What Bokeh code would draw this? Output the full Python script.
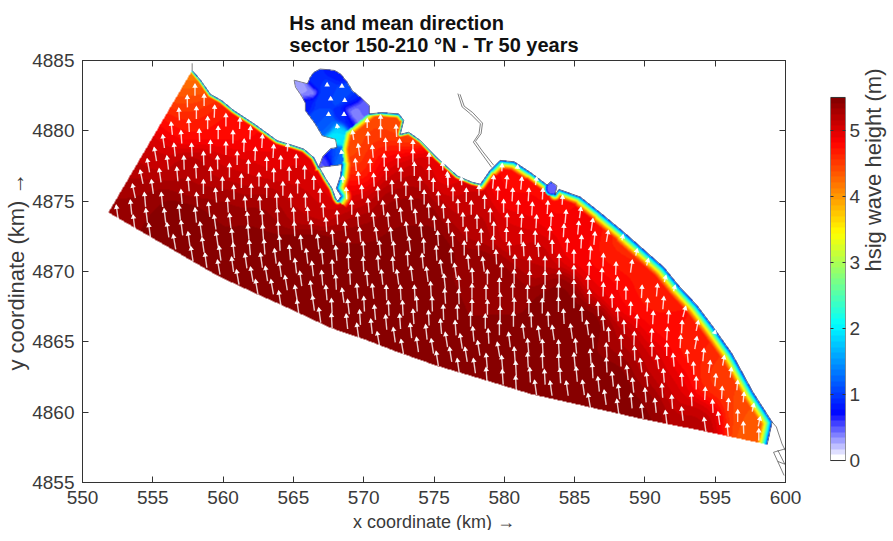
import numpy as np
from bokeh.plotting import figure
from bokeh.models import LinearAxis, FixedTicker, LinearColorMapper, Range1d, ColumnDataSource
from bokeh.layouts import row
from bokeh.embed import file_html
from bokeh.resources import INLINE

title_text = "Hs and mean direction\nsector 150-210 \u00b0N - Tr 50 years"
x_ticks = [550, 555, 560, 565, 570, 575, 580, 585, 590, 595, 600]
y_ticks = [4855, 4860, 4865, 4870, 4875, 4880, 4885]
cbar_ticks = [0, 1, 2, 3, 4, 5]
hs_max = 5.5

# sea boundary (open side)
south_boundary = [(551.85, 4874.2), (553.65, 4873.15), (556.5, 4871.5), (559.6, 4869.7), (562.4, 4868.4),
                  (564.1, 4867.65), (567.63, 4866.0), (570.0, 4865.2), (572.35, 4864.3), (575.2, 4863.3),
                  (578.75, 4862.25), (581.85, 4861.3), (586.1, 4860.35), (589.65, 4859.55), (594.2, 4858.65),
                  (598.7, 4857.7)]
# shore, from the east corner back to the north-west tip: x, y, width of the surf band (km)
shore_east = [(598.7, 4857.7, 1.0), (599.05, 4859.3, 1.0), (597.7, 4861.4, 1.0), (596.2, 4864.15, 1.0),
              (594.9, 4866.0, 1.0), (593.7, 4867.6, 1.0), (592.4, 4869.0, 1.0), (591.35, 4870.3, 1.0),
              (590.15, 4871.35, 1.0), (588.5, 4872.8, 0.9), (586.8, 4874.2, 0.8), (585.4, 4875.3, 0.7),
              (584.0, 4875.8, 0.5), (583.9, 4875.85, 0.5), (583.6, 4875.45, 0.5), (583.75, 4876.1, 0.5),
              (583.3, 4876.4, 0.5), (583.05, 4876.15, 0.6)]
shore_north = [(581.85, 4877.05, 0.7), (580.7, 4877.8, 0.7), (579.7, 4877.9, 0.7), (579.0, 4877.2, 0.5),
               (578.3, 4876.2, 0.25), (577.7, 4876.35, 0.25), (576.65, 4876.8, 0.25), (575.2, 4878.1, 0.25),
               (574.05, 4879.3, 0.25), (573.2, 4879.9, 0.25), (572.6, 4879.75, 0.25), (572.85, 4880.75, 0.4),
               (572.5, 4881.2, 0.4), (571.3, 4881.3, 0.3), (570.4, 4881.2, 0.3)]
shore_bay = [(570.4, 4881.8, 0.4), (569.75, 4882.4, 0.4), (569.2, 4882.85, 0.4), (568.8, 4883.5, 0.4),
             (568.35, 4884.05, 0.4), (567.9, 4884.3, 0.4), (567.4, 4884.35, 0.4), (566.9, 4884.4, 0.4),
             (566.45, 4884.15, 0.4), (566.2, 4883.8, 0.4), (566.0, 4883.35, 0.4), (565.05, 4883.6, 0.4),
             (565.15, 4883.1, 0.4), (565.5, 4882.6, 0.4), (565.85, 4882.0, 0.4), (565.85, 4881.45, 0.4),
             (566.55, 4880.5, 0.4), (567.05, 4879.65, 0.4), (568.0, 4879.4, 0.4), (568.1, 4878.8, 0.4),
             (567.65, 4878.75, 0.4), (567.1, 4878.2, 0.4)]
shore_west = [(566.8, 4877.4, 0.3), (566.45, 4878.1, 0.3), (565.75, 4878.7, 0.3), (565.0, 4878.95, 0.3),
              (563.85, 4879.3, 0.3), (562.2, 4880.5, 0.3), (560.75, 4881.45, 0.3), (559.9, 4882.15, 0.3),
              (559.1, 4882.6, 0.3), (558.4, 4883.6, 0.3), (557.8, 4884.3, 0.3)]
island = [(566.85, 4877.4), (567.3, 4876.6), (567.75, 4875.9), (568.0, 4875.2), (568.15, 4875.0),
          (568.4, 4875.35), (568.05, 4875.9), (568.35, 4876.8), (568.45, 4877.6)]
# the line that separates the sheltered bays from the open field
shadow_line = [(570.4, 4881.25), (568.7, 4879.9), (568.45, 4878.7), (568.55, 4877.9), (568.45, 4877.6)]
river_a = [(576.7, 4882.65), (577.0, 4881.7), (577.6, 4881.2), (578.3, 4880.5), (578.2, 4879.8), (577.8, 4879.2),
           (578.3, 4878.5), (579.1, 4877.4)]
river_b = [(576.85, 4882.6), (577.15, 4881.75), (577.75, 4881.3), (578.45, 4880.55), (578.35, 4879.8),
           (577.95, 4879.25), (578.45, 4878.55), (579.25, 4877.55)]
land_lines = [[(557.8, 4884.3), (557.8, 4884.8)],
              [(599.05, 4859.3), (599.35, 4858.95), (599.75, 4857.75), (600.0, 4857.25)],
              [(599.15, 4857.15), (600.0, 4857.4)],
              [(599.15, 4857.15), (599.9, 4855.5)],
              [(599.45, 4857.3), (599.95, 4856.3), (599.45, 4856.5)]]

# Hs: x, y, Hs
hs_west = [(552, 4874.3, 5.35), (554, 4875, 5.4), (556, 4873.5, 5.45), (553.5, 4876.5, 5.2), (555, 4878.5, 5.1),
           (556.5, 4880.5, 4.75), (557.3, 4882.7, 4.3), (557.8, 4884, 4.0), (558, 4882, 4.55), (559, 4880.5, 4.75),
           (561, 4879.8, 4.75), (563, 4878.5, 4.85), (565, 4877.5, 4.95), (558, 4877, 5.25), (560, 4877.5, 5.05),
           (562, 4877, 5.1), (565, 4876, 5.1), (560, 4875, 5.35), (563, 4874.5, 5.35), (566, 4875, 5.2),
           (567, 4876, 4.9), (558, 4873, 5.5), (562, 4871.5, 5.5), (566, 4871, 5.5), (565, 4869.5, 5.5)]
hs_centre = [(570, 4870, 5.5), (570, 4873, 5.4), (569.5, 4875, 5.1), (569, 4877, 4.7), (569.3, 4878, 4.3),
             (569.5, 4879.5, 4.3), (570, 4880.5, 4.4), (571, 4881, 4.5), (571.5, 4880, 4.6), (572, 4881, 4.3),
             (572.3, 4880.2, 4.3), (571, 4878.5, 4.85), (572, 4877.5, 5.0), (573, 4876.5, 5.2), (572.5, 4875, 5.4),
             (574, 4874, 5.4), (576, 4877, 4.9), (577, 4875, 5.1), (578, 4873.5, 5.2), (575, 4872, 5.45),
             (573, 4871, 5.5), (574, 4868, 5.5), (578, 4870, 5.4), (572, 4866.5, 5.5), (566, 4868.5, 5.5)]
hs_east = [(580.5, 4875.5, 4.8), (581, 4873, 5.0), (582, 4871, 5.15), (580, 4869, 5.4), (584, 4868, 5.45),
           (586, 4866, 5.5), (583, 4874.5, 4.8), (585, 4872, 4.85), (587, 4869.5, 4.9), (589, 4868, 4.85),
           (591, 4866, 4.75), (588, 4871, 4.6), (590, 4868.5, 4.6), (593, 4864, 4.65), (595, 4862, 4.5),
           (597, 4860, 4.4), (598, 4858.5, 4.3), (592, 4862, 5.0), (594, 4859.5, 5.2), (590, 4861, 5.45),
           (588, 4863, 5.5), (586, 4861.5, 5.5), (580, 4864, 5.5), (588.5, 4865, 5.2), (590.5, 4863.5, 5.1)]
hs_bays = [(566.5, 4883.5, 0.9), (567.5, 4883, 1.0), (568, 4884, 0.85), (568.5, 4882.5, 1.1), (567, 4882, 1.0),
           (566, 4882, 0.85), (565.7, 4883, 0.3), (566, 4882.7, 0.35), (567, 4881, 1.1), (567.5, 4880.5, 1.2),
           (568.5, 4881, 0.9), (569.2, 4881.5, 0.35), (569.5, 4881, 0.3), (570, 4881.4, 0.5), (569, 4880.6, 0.8),
           (569, 4882, 0.9), (568.3, 4880, 1.8), (568.2, 4879.6, 2.0), (567.6, 4878.2, 0.8), (567.2, 4877.8, 0.5),
           (568, 4878.3, 1.2), (568.2, 4877.9, 1.3)]
hs_notch = [(583.4, 4876, 0.5), (583.6, 4875.6, 1.0)]

# arrow tips: x, y, direction in degrees clockwise from north
arrows_nw = [(558.0, 4883.3, 0), (557.45, 4882.5, -1), (558.65, 4882.6, 0), (556.85, 4881.6, -3), (558.1, 4881.7, 0),
             (559.4, 4881.8, 2), (556.3, 4880.6, -6), (557.55, 4880.8, -3), (558.9, 4881.0, 0), (560.2, 4881.2, 0),
             (555.7, 4879.7, -8), (557.0, 4880.0, -4), (558.3, 4880.1, -2), (559.65, 4880.3, 0), (561.2, 4880.9, 2),
             (555.1, 4878.8, -10), (556.5, 4879.1, -6), (557.75, 4879.1, -3), (559.1, 4879.3, 0), (560.7, 4880.0, 0),
             (561.95, 4880.3, 3), (554.6, 4878.0, -10), (556.0, 4878.2, -7), (557.2, 4878.2, -2), (558.6, 4878.5, -2),
             (560.2, 4879.2, 0), (561.5, 4879.4, 2), (562.8, 4879.7, 3), (554.1, 4877.2, -12), (555.45, 4877.3, -8),
             (556.7, 4877.4, -5), (558.05, 4877.6, -3), (559.6, 4878.2, -1), (561.0, 4878.5, 0), (562.3, 4878.8, 2),
             (563.6, 4879.0, 3), (564.6, 4879.1, 3)]
arrows_w = [(552.4, 4874.7, -8), (553.4, 4875.05, -6), (553.6, 4874.0, -7), (553.55, 4876.2, -12), (554.4, 4875.6, -5),
            (554.5, 4874.45, -7), (554.7, 4873.4, -8), (554.9, 4876.5, -8), (555.6, 4875.6, -6), (555.8, 4874.45, -7),
            (556.0, 4873.45, -8), (556.45, 4872.6, -10), (557.5, 4876.7, -5), (557.0, 4875.8, -5), (556.85, 4874.7, -6),
            (557.0, 4873.6, -7), (557.5, 4872.8, -8), (557.7, 4871.75, -9), (558.6, 4876.5, 0), (558.1, 4875.6, -5),
            (558.0, 4874.5, -6), (558.35, 4873.5, -8), (558.5, 4872.4, -8), (558.7, 4871.3, -8), (559.6, 4870.8, -10),
            (559.1, 4877.4, -3), (559.45, 4875.9, -5), (558.95, 4874.9, -6), (559.35, 4874.0, -8), (559.5, 4872.8, -8),
            (559.7, 4871.8, -8), (560.6, 4871.0, -8), (560.95, 4870.1, -10), (559.95, 4876.7, 0), (560.45, 4877.65, 0),
            (560.3, 4875.2, -4), (560.45, 4874.1, -6), (560.6, 4873.0, -6), (560.7, 4872.0, -6), (561.55, 4871.25, -8),
            (561.95, 4870.3, -10), (562.3, 4869.4, -10), (560.75, 4876.1, -2), (561.3, 4876.9, 0), (561.8, 4877.9, 0),
            (561.55, 4875.3, -4), (561.7, 4874.2, -5), (561.75, 4873.3, -5), (561.85, 4872.2, -5), (562.65, 4871.3, -8),
            (563.0, 4870.35, -9), (563.4, 4869.4, -10), (563.95, 4868.6, -9)]
arrows_wc = [(562.0, 4876.2, 0), (562.55, 4877.0, 0), (563.1, 4878.1, 0), (562.6, 4875.3, -3), (562.75, 4874.3, -4),
             (562.8, 4873.3, -4), (562.9, 4872.25, -4), (563.65, 4871.6, -7), (564.0, 4870.65, -8), (564.4, 4869.7, -9),
             (565.1, 4869.0, -9), (565.25, 4867.95, -8), (563.1, 4876.2, 0), (563.6, 4877.3, 0), (564.1, 4878.2, 0),
             (563.8, 4875.5, -2), (563.85, 4874.45, -3), (563.9, 4873.5, -3), (564.0, 4872.5, -3), (564.7, 4871.85, -5),
             (565.1, 4870.9, -7), (565.45, 4870.0, -8), (566.2, 4869.3, -8), (566.35, 4868.25, -8), (566.8, 4867.4, -8),
             (564.25, 4876.35, 0), (564.7, 4877.4, 0), (565.2, 4878.3, 0), (564.8, 4875.5, -2), (565.0, 4874.5, -3),
             (565.05, 4873.5, -3), (565.5, 4872.55, -6), (565.9, 4871.6, -7), (566.3, 4870.7, -7), (567.0, 4870.05, -5),
             (567.3, 4869.0, -5), (567.7, 4868.05, -3), (567.7, 4867.0, -3), (565.3, 4876.5, 0), (565.8, 4877.5, 0),
             (566.45, 4876.75, 0), (565.85, 4875.5, -1), (566.0, 4874.55, -3), (566.25, 4873.6, -4), (566.7, 4872.6, -6),
             (567.0, 4871.55, -6), (567.75, 4870.8, -3), (568.0, 4869.75, -3), (566.9, 4875.85, 0), (567.1, 4874.8, -3),
             (567.3, 4873.8, -4), (567.75, 4872.9, -5), (568.0, 4871.8, -5)]
arrows_c1 = [(568.1, 4874.3, -3), (568.65, 4873.5, -5), (568.9, 4872.3, -4), (568.9, 4871.2, -2), (569.0, 4870.1, -3),
             (568.45, 4868.8, -8), (568.85, 4868.0, -7), (568.75, 4866.95, -6), (569.15, 4875.0, 0), (569.55, 4874.15, -5),
             (569.7, 4873.1, -5), (569.95, 4872.1, -4), (569.95, 4871.0, -3), (570.2, 4870.0, -5), (569.5, 4869.1, -5),
             (570.0, 4868.2, -3), (569.7, 4867.25, -4), (569.5, 4866.3, -8), (568.75, 4875.95, -3), (569.85, 4876.1, -3),
             (570.3, 4875.15, -5), (570.65, 4874.15, -6), (570.85, 4873.1, -7), (571.1, 4872.15, -6), (571.0, 4871.1, -4),
             (571.25, 4870.1, -6), (570.6, 4869.1, -6), (570.75, 4867.6, -5), (570.5, 4866.6, -6), (571.0, 4876.0, -3),
             (571.35, 4875.0, -5), (571.7, 4874.15, -5), (571.9, 4873.1, -6), (572.1, 4872.1, -5), (572.05, 4871.0, -4),
             (572.35, 4870.1, -8), (571.6, 4869.0, -2), (571.75, 4867.9, -3), (571.55, 4866.9, -5), (570.95, 4865.7, -10),
             (572.0, 4876.45, -2), (572.3, 4875.45, -5), (572.6, 4874.5, -6), (573.0, 4873.5, -7), (573.2, 4872.45, -7),
             (573.1, 4871.4, -3), (573.35, 4870.35, -7), (572.6, 4869.0, -3), (572.75, 4867.9, -3), (572.55, 4866.95, -4),
             (572.1, 4866.0, -8), (572.65, 4865.15, -10)]
arrows_c2 = [(573.0, 4876.35, 0), (573.35, 4875.35, -4), (573.65, 4874.4, -5), (574.05, 4873.45, -5), (574.25, 4872.3, -3),
             (574.15, 4871.25, -5), (574.45, 4870.3, -7), (573.6, 4869.0, -3), (573.75, 4868.2, -3), (573.5, 4867.3, -4),
             (573.3, 4866.3, -6), (573.75, 4865.3, -8), (574.3, 4875.75, 0), (574.6, 4874.8, -3), (575.0, 4873.9, -4),
             (575.25, 4872.85, -4), (575.15, 4871.8, -3), (575.45, 4870.8, -8), (574.75, 4869.25, -3), (575.7, 4869.8, -6),
             (575.75, 4868.75, -4), (574.85, 4868.2, -2), (574.6, 4867.2, -3), (574.4, 4866.2, -6), (574.8, 4865.2, -9),
             (575.15, 4864.3, -9), (574.0, 4876.7, 0), (574.95, 4876.6, 0), (575.3, 4875.65, -2), (575.65, 4874.75, -3),
             (576.0, 4873.7, -3), (576.3, 4872.75, -3), (576.2, 4871.6, -3), (576.45, 4870.55, -8), (576.75, 4869.65, -4),
             (576.75, 4868.7, -2), (576.65, 4867.6, -2), (575.65, 4867.6, -2), (575.45, 4866.6, -5), (576.5, 4866.5, -4),
             (575.8, 4865.65, -9), (576.1, 4864.6, -9), (576.65, 4863.8, -8), (576.85, 4865.55, -9), (577.2, 4864.6, -9),
             (577.8, 4863.8, -8), (576.0, 4876.9, 0), (576.35, 4875.95, 0), (576.7, 4875.1, -2), (577.05, 4874.15, -1),
             (577.3, 4873.1, -2), (577.15, 4872.15, 0), (577.4, 4871.15, -5), (577.7, 4870.2, -3), (577.7, 4869.1, 0),
             (577.7, 4868.0, 0), (577.6, 4867.1, 0), (577.75, 4866.05, -5), (578.1, 4865.05, -9)]
arrows_c3 = [(577.3, 4875.9, 0), (577.65, 4875.0, 0), (578.05, 4874.0, -1), (578.35, 4873.0, -2), (578.15, 4872.1, -2),
             (578.45, 4871.0, -7), (578.8, 4870.1, 0), (578.7, 4869.0, 0), (578.8, 4867.95, 0), (578.65, 4866.95, 0),
             (578.85, 4865.9, -3), (579.5, 4864.95, -10), (578.7, 4864.15, -5), (578.7, 4863.15, -4), (578.2, 4876.1, 0),
             (578.6, 4875.4, 0), (579.0, 4874.45, 0), (579.25, 4873.5, 0), (579.2, 4872.5, 0), (579.4, 4871.5, -3),
             (579.8, 4870.55, 0), (579.65, 4869.5, 0), (579.7, 4868.45, 0), (579.7, 4867.5, 0), (579.65, 4866.5, 0),
             (579.8, 4864.0, -5), (579.85, 4863.0, -4), (579.25, 4876.8, 5), (579.55, 4876.0, 2), (579.95, 4875.1, 0),
             (580.2, 4874.1, 0), (580.15, 4873.05, 0), (580.35, 4872.1, -3), (580.75, 4871.15, 0), (580.7, 4870.1, 0),
             (580.6, 4869.1, 0), (580.7, 4868.1, 0), (580.65, 4867.1, 0), (580.3, 4865.65, -7), (580.7, 4864.6, -4),
             (580.8, 4863.6, -3), (580.8, 4862.55, -3), (579.85, 4877.65, 3), (580.2, 4876.8, 5), (580.6, 4875.9, 3),
             (581.0, 4875.0, 2), (581.25, 4874.05, 3), (581.2, 4872.9, 0), (581.35, 4872.05, -3), (581.8, 4871.05, 0),
             (581.8, 4870.0, 0), (581.65, 4869.0, 0), (581.75, 4868.0, 0), (581.9, 4867.05, -2), (581.3, 4866.25, -7),
             (581.65, 4865.2, -5), (581.65, 4864.2, -3), (581.8, 4863.15, -3), (582.15, 4862.25, -8)]
arrows_e1 = [(580.95, 4877.55, 5), (581.25, 4876.7, 5), (581.75, 4875.9, 3), (582.0, 4874.9, 3), (582.3, 4874.0, 3),
             (582.2, 4872.85, 0), (582.4, 4872.0, -3), (582.9, 4871.05, 0), (582.9, 4870.0, 0), (582.8, 4869.0, 0),
             (582.7, 4868.05, 0), (583.1, 4867.1, -3), (582.4, 4866.1, -8), (582.7, 4865.15, -3), (582.7, 4864.15, -2),
             (582.85, 4863.0, -3), (583.25, 4862.2, -8), (582.3, 4876.7, 8), (582.75, 4875.9, 3), (583.1, 4875.0, 3),
             (583.35, 4874.15, 3), (583.25, 4873.15, 3), (583.4, 4872.2, -1), (583.9, 4871.2, 0), (583.9, 4870.05, 0),
             (583.85, 4869.1, 0), (583.85, 4868.15, 0), (584.2, 4867.3, -3), (583.4, 4866.15, -8), (583.85, 4865.1, -3),
             (583.85, 4864.1, -3), (583.95, 4863.1, -3), (584.4, 4862.2, -8), (584.15, 4875.4, 3), (584.4, 4874.35, 5),
             (584.25, 4873.35, 3), (584.5, 4872.3, 3), (584.95, 4871.5, 0), (584.95, 4870.4, 0), (584.95, 4869.35, 0),
             (584.95, 4868.4, 0), (584.7, 4866.25, -8), (585.05, 4865.2, -5), (584.95, 4864.2, -5), (585.1, 4863.2, -5)]
arrows_e2 = [(585.45, 4874.55, 8), (585.3, 4873.55, 5), (585.5, 4872.55, 3), (585.5, 4867.45, -3), (585.85, 4866.5, -8),
             (586.25, 4865.55, -5), (586.1, 4864.45, -4), (586.25, 4863.45, -3), (585.55, 4862.25, -8), (585.95, 4861.3, -10),
             (586.3, 4873.75, 8), (586.45, 4872.8, 5), (586.15, 4871.75, 4), (586.05, 4870.65, 2), (585.95, 4869.65, 0),
             (586.05, 4868.65, 0), (586.65, 4867.8, -3), (587.0, 4866.8, -5), (587.4, 4866.0, -3), (587.25, 4864.9, -3),
             (587.25, 4863.85, -3), (586.65, 4862.5, -6), (587.1, 4861.55, -8), (587.4, 4872.9, 10), (587.05, 4871.25, 2),
             (586.95, 4870.2, 2), (587.05, 4869.15, 2), (587.65, 4868.35, -2), (588.05, 4867.4, -3), (588.5, 4866.5, -3),
             (588.3, 4865.45, -2), (588.25, 4864.25, -3), (587.65, 4862.85, -6), (588.1, 4861.95, -6), (588.0, 4860.9, -8),
             (588.45, 4872.6, 12), (587.95, 4870.65, 2), (588.05, 4869.6, 2), (588.65, 4868.9, 0), (589.0, 4867.8, 2),
             (589.45, 4866.9, 3), (589.25, 4865.7, 2), (589.25, 4864.65, -2), (588.7, 4863.3, -6), (589.1, 4862.4, -6),
             (589.0, 4861.3, -5), (589.75, 4860.55, -7), (589.45, 4871.6, 12), (589.1, 4870.8, 8), (589.8, 4869.0, 3),
             (590.2, 4868.05, 3), (590.6, 4867.15, 3), (590.5, 4865.9, 3), (590.5, 4864.9, 0), (589.65, 4863.8, -8),
             (590.1, 4862.8, -6), (590.0, 4861.7, -5), (590.7, 4860.95, -6), (591.45, 4860.1, -7)]
arrows_e3 = [(590.25, 4870.9, 15), (591.5, 4869.7, 15), (590.9, 4869.1, 5), (591.35, 4868.2, 5), (591.7, 4867.2, 3),
             (591.6, 4866.0, 3), (591.55, 4864.9, 0), (590.85, 4864.0, -8), (591.3, 4863.05, -5), (591.2, 4862.0, -4),
             (591.9, 4861.2, -4), (592.6, 4860.35, -7), (592.15, 4869.0, 15), (592.9, 4867.5, 15), (592.65, 4866.5, 3),
             (592.55, 4865.45, 3), (592.0, 4864.15, -5), (592.6, 4862.75, -4), (593.3, 4861.35, -3), (594.2, 4859.6, -8),
             (593.8, 4866.5, 12), (593.7, 4865.35, 10), (593.0, 4864.4, -5), (593.45, 4863.55, -2), (593.65, 4862.5, 0),
             (594.3, 4861.75, 3), (594.8, 4860.85, -3), (595.2, 4860.0, -8), (595.0, 4865.8, 15), (594.2, 4864.5, 5),
             (594.65, 4863.65, 7), (595.05, 4862.7, 5), (595.5, 4861.8, 3), (595.95, 4860.95, 3), (595.85, 4859.15, -5),
             (595.65, 4864.0, 10), (596.15, 4863.15, 7), (596.6, 4862.25, 5), (596.6, 4860.15, 0), (597.0, 4859.3, -2),
             (597.05, 4861.4, 5), (597.75, 4860.6, 12), (598.2, 4859.65, 12), (598.1, 4858.8, 0)]
arrows_neck = [(568.5, 4876.75, -3), (568.4, 4878.6, -10), (569.2, 4880.0, -8), (569.6, 4879.05, -8), (569.4, 4878.0, -5),
               (569.6, 4877.05, -5), (570.25, 4880.85, 0), (570.3, 4879.9, -3), (570.6, 4878.95, -5), (570.45, 4877.95, -2),
               (570.7, 4876.95, -3), (571.2, 4881.1, 0), (571.2, 4880.35, 0), (571.55, 4879.45, -2), (571.45, 4878.35, -1),
               (571.6, 4877.4, -1), (572.3, 4880.4, -3), (572.55, 4879.4, 0), (572.45, 4878.3, 0), (572.65, 4877.35, 0),
               (573.5, 4879.3, 0), (573.5, 4878.65, 0), (573.6, 4877.75, 0), (574.65, 4878.4, 0), (574.65, 4877.45, 0),
               (575.6, 4877.75, -3), (575.95, 4877.05, -2), (576.95, 4876.7, -2), (568.1, 4880.45, -10)]
arrows_bay = [(567.4, 4883.4, 0), (568.45, 4883.3, 0), (567.65, 4882.4, 0), (568.65, 4882.3, 0), (567.5, 4881.3, 0),
              (568.6, 4881.3, 0)]

# ------------------------------------------------------------------
def jet(i):
    t = i / 64.0
    r = np.clip(min(4 * t - 1.5, -4 * t + 4.5), 0, 1)
    g = np.clip(min(4 * t - 0.5, -4 * t + 3.5), 0, 1)
    b = np.clip(min(4 * t + 0.5, -4 * t + 2.5), 0, 1)
    return r, g, b

palette = []
for i in range(64):
    if i < 8:
        f = i / 8.0
        c = (1 - f, 1 - f, 1.0)
    else:
        c = jet(i + 0.5)
    palette.append("#%02x%02x%02x" % tuple(int(round(v * 255)) for v in c))
mapper = LinearColorMapper(palette=palette, low=0, high=hs_max, nan_color=(0, 0, 0, 0))

shore = shore_east + shore_north + shore_bay + shore_west
outer = south_boundary + [(p[0], p[1]) for p in shore[1:]]

NX, NY = 703, 422
xs = 550 + (np.arange(NX) + 0.5) * 50 / NX
ys = 4855 + (np.arange(NY) + 0.5) * 30 / NY
X, Y = np.meshgrid(xs, ys)


def inside(poly):
    P = np.array(poly)
    A, B = P, np.roll(P, -1, axis=0)
    res = np.zeros(X.shape, bool)
    for (x1, y1), (x2, y2) in zip(A, B):
        if y1 == y2:
            continue
        cond = ((y1 > Y) != (y2 > Y)) & (X < (x2 - x1) * (Y - y1) / (y2 - y1) + x1)
        res ^= cond
    return res


mask = inside(outer) & ~inside(island)
sheltered = inside(shadow_line[::-1] + [(p[0], p[1]) for p in shore_bay] + [(566.8, 4877.4), (568.45, 4877.6)])


def seg_distance(a, b):
    ax, ay, bx, by = a[0], a[1], b[0], b[1]
    dx, dy = bx - ax, by - ay
    t = np.clip(((X - ax) * dx + (Y - ay) * dy) / (dx * dx + dy * dy), 0, 1)
    return np.hypot(X - ax - t * dx, Y - ay - t * dy)


# surf band: distance to the shore segments
segs = list(zip(shore[:-1], shore[1:]))
west_side = [(a[0], a[1], 0.28) for a in island[:5]]
east_side = [(a[0], a[1], 0.8) for a in island[4:]]
segs += list(zip(west_side, west_side[1:])) + list(zip(east_side, east_side[1:]))
best_d = np.full(X.shape, 1e9)
best_w = np.full(X.shape, 1.0)
for a, b in segs:
    d = seg_distance(a, b)
    m = d < best_d
    best_d[m] = d[m]
    best_w[m] = a[2]

shadow_d = np.full(X.shape, 1e9)
for a, b in zip(shadow_line[:-1], shadow_line[1:]):
    shadow_d = np.minimum(shadow_d, seg_distance(a, b))

open_samples = np.array(hs_west + hs_centre + hs_east)
bay_samples = np.array(hs_bays + hs_notch)


def kernel_field(qx, qy, smp, sigma):
    num = np.zeros(qx.shape)
    den = np.full(qx.shape, 1e-12)
    for sx, sy, sv in smp:
        wgt = np.exp(-((qx - sx) ** 2 + (qy - sy) ** 2) / (2 * sigma * sigma))
        num += wgt * sv
        den += wgt
    return num / den


field = kernel_field(X, Y, open_samples, 1.1)
surf = 0.9 + 6.5 * (1 - np.exp(-best_d / best_w))
shadow = 2.2 + 5.0 * (1 - np.exp(-shadow_d / 0.8))
Hs = np.minimum(np.minimum(field, surf), shadow)
bay_field = np.minimum(kernel_field(X, Y, bay_samples, 0.3), 0.9 + 6.5 * (1 - np.exp(-shadow_d / 0.5)) + 2)
Hs[sheltered] = bay_field[sheltered]
notch = np.hypot(X - 583.4, Y - 4875.9) < 0.55
Hs[notch] = np.minimum(Hs[notch], 0.45 + 2.2 * np.maximum(np.hypot(X[notch] - 583.4, Y[notch] - 4875.9) - 0.35, 0) / 0.2)
Hs[~mask] = np.nan

# ------------------------------------------------------------------
TXT = "#3a3a3a"
FONT = "Liberation Sans"
p = figure(frame_width=703, frame_height=422, x_range=Range1d(550, 600),
           y_range=Range1d(4855, 4885), output_backend="svg", toolbar_location=None, min_border_left=82,
           min_border_right=23, min_border_top=12, min_border_bottom=4, x_axis_label="x coordinate (km) \u2192",
           y_axis_label="y coordinate (km) \u2192", outline_line_color="#333333")
p.grid.visible = False
p.title.text = title_text
p.title.align = "center"
p.title.text_font = FONT
p.title.text_font_size = "20px"
p.title.text_color = "#111111"
p.title.text_font_style = "bold"

p.image(image=[Hs], x=550, y=4855, dw=50, dh=30, color_mapper=mapper)

p.line([a[0] for a in shore], [a[1] for a in shore], line_color="#444444", line_width=1, line_alpha=0.6)
p.line([a[0] for a in island] + [island[0][0]], [a[1] for a in island] + [island[0][1]], line_color="#444444",
       line_width=1, line_alpha=0.6)
for r in [river_a, river_b] + land_lines:
    p.line([a[0] for a in r], [a[1] for a in r], line_color="#444444", line_width=0.8, line_alpha=0.85)

arrows = (arrows_nw + arrows_w + arrows_wc + arrows_c1 + arrows_c2 + arrows_c3 + arrows_e1 + arrows_e2 + arrows_e3 +
          arrows_neck + arrows_bay)
A = np.array(arrows, float)
tip_x, tip_y, ang = A[:, 0], A[:, 1], np.radians(A[:, 2])
ix = np.clip(((tip_x - 550) / 50 * NX).astype(int), 0, NX - 1)
iy = np.clip(((tip_y - 4855) / 30 * NY).astype(int), 0, NY - 1)
hs_tip = np.nan_to_num(Hs[iy, ix], nan=3.0)
L = hs_tip * 0.19
tail_x = tip_x - L * np.sin(ang)
tail_y = tip_y - L * np.cos(ang)
head_x = tip_x - 0.13 * np.sin(ang)
head_y = tip_y - 0.13 * np.cos(ang)
src = ColumnDataSource(dict(x0=tail_x, y0=tail_y, x1=tip_x, y1=tip_y, hx=head_x, hy=head_y, a=-ang))
p.segment("x0", "y0", "x1", "y1", source=src, line_color="white", line_width=1.4, line_alpha=0.8)
p.scatter("hx", "hy", source=src, marker="triangle", size=5.5, angle="a", fill_color="white", fill_alpha=0.95,
          line_color=None)


def style_axis(ax, labels=True):
    ax.major_tick_in = 6
    ax.major_tick_out = 0
    ax.minor_tick_in = 0
    ax.minor_tick_out = 0
    ax.major_tick_line_color = "#333333"
    ax.axis_line_color = "#333333"
    ax.major_label_text_color = TXT
    ax.major_label_text_font = FONT
    ax.major_label_text_font_size = "19px"
    ax.axis_label_text_color = TXT
    ax.axis_label_text_font = FONT
    ax.axis_label_text_font_size = "18px"
    ax.axis_label_text_font_style = "normal"
    if not labels:
        ax.major_label_text_font_size = "0px"
        ax.major_label_text_color = None


p.xaxis.ticker = FixedTicker(ticks=x_ticks)
p.yaxis.ticker = FixedTicker(ticks=y_ticks)
for ax in p.xaxis + p.yaxis:
    style_axis(ax)
p.yaxis[0].major_label_standoff = 8
p.xaxis[0].major_label_standoff = 8
p.yaxis[0].axis_label_text_font_size = "22px"
p.yaxis[0].axis_label_standoff = 0
p.xaxis[0].axis_label_standoff = 5
top = LinearAxis(ticker=FixedTicker(ticks=x_ticks))
right = LinearAxis(ticker=FixedTicker(ticks=y_ticks))
for ax in (top, right):
    style_axis(ax, labels=False)
p.add_layout(top, "above")
p.add_layout(right, "right")

# colour bar: its frame is as tall as the map's, so the bar is drawn in the range between 0 and hs_max
cb = figure(frame_width=15, frame_height=422, x_range=Range1d(0, 1), y_range=Range1d(-0.333, 6.06),
            output_backend="svg", toolbar_location=None, min_border_left=22, min_border_right=40, min_border_top=60,
            min_border_bottom=55, y_axis_location="right", outline_line_color=None)
cb.grid.visible = False
cb.xaxis.visible = False
levels = ((np.arange(64) + 0.5) * hs_max / 64).reshape(64, 1)
cb.image(image=[levels], x=0, y=0, dw=1, dh=hs_max, color_mapper=mapper)
cb.quad(left=0, right=1, bottom=0, top=hs_max, fill_color=None, line_color="#333333", line_width=1)
cb.yaxis.ticker = FixedTicker(ticks=cbar_ticks)
cb.yaxis.axis_label = "hsig wave height (m)"
for ax in cb.yaxis:
    style_axis(ax)
    ax.major_tick_in = 3
    ax.major_label_standoff = 4
    ax.major_label_text_font_size = "19px"
    ax.axis_label_text_font_size = "22px"
    ax.axis_label_standoff = 10
    ax.axis_label_orientation = np.pi / 2
    ax.axis_label_text_align = "center"
    ax.axis_label_text_baseline = "middle"
    ax.axis_line_color = None
cb_left = LinearAxis(ticker=FixedTicker(ticks=cbar_ticks))
style_axis(cb_left, labels=False)
cb_left.major_tick_in = 3
cb_left.axis_line_color = None
cb.add_layout(cb_left, "left")

layout = row(p, cb, spacing=0)
open("out.html", "w").write(file_html(layout, INLINE))
